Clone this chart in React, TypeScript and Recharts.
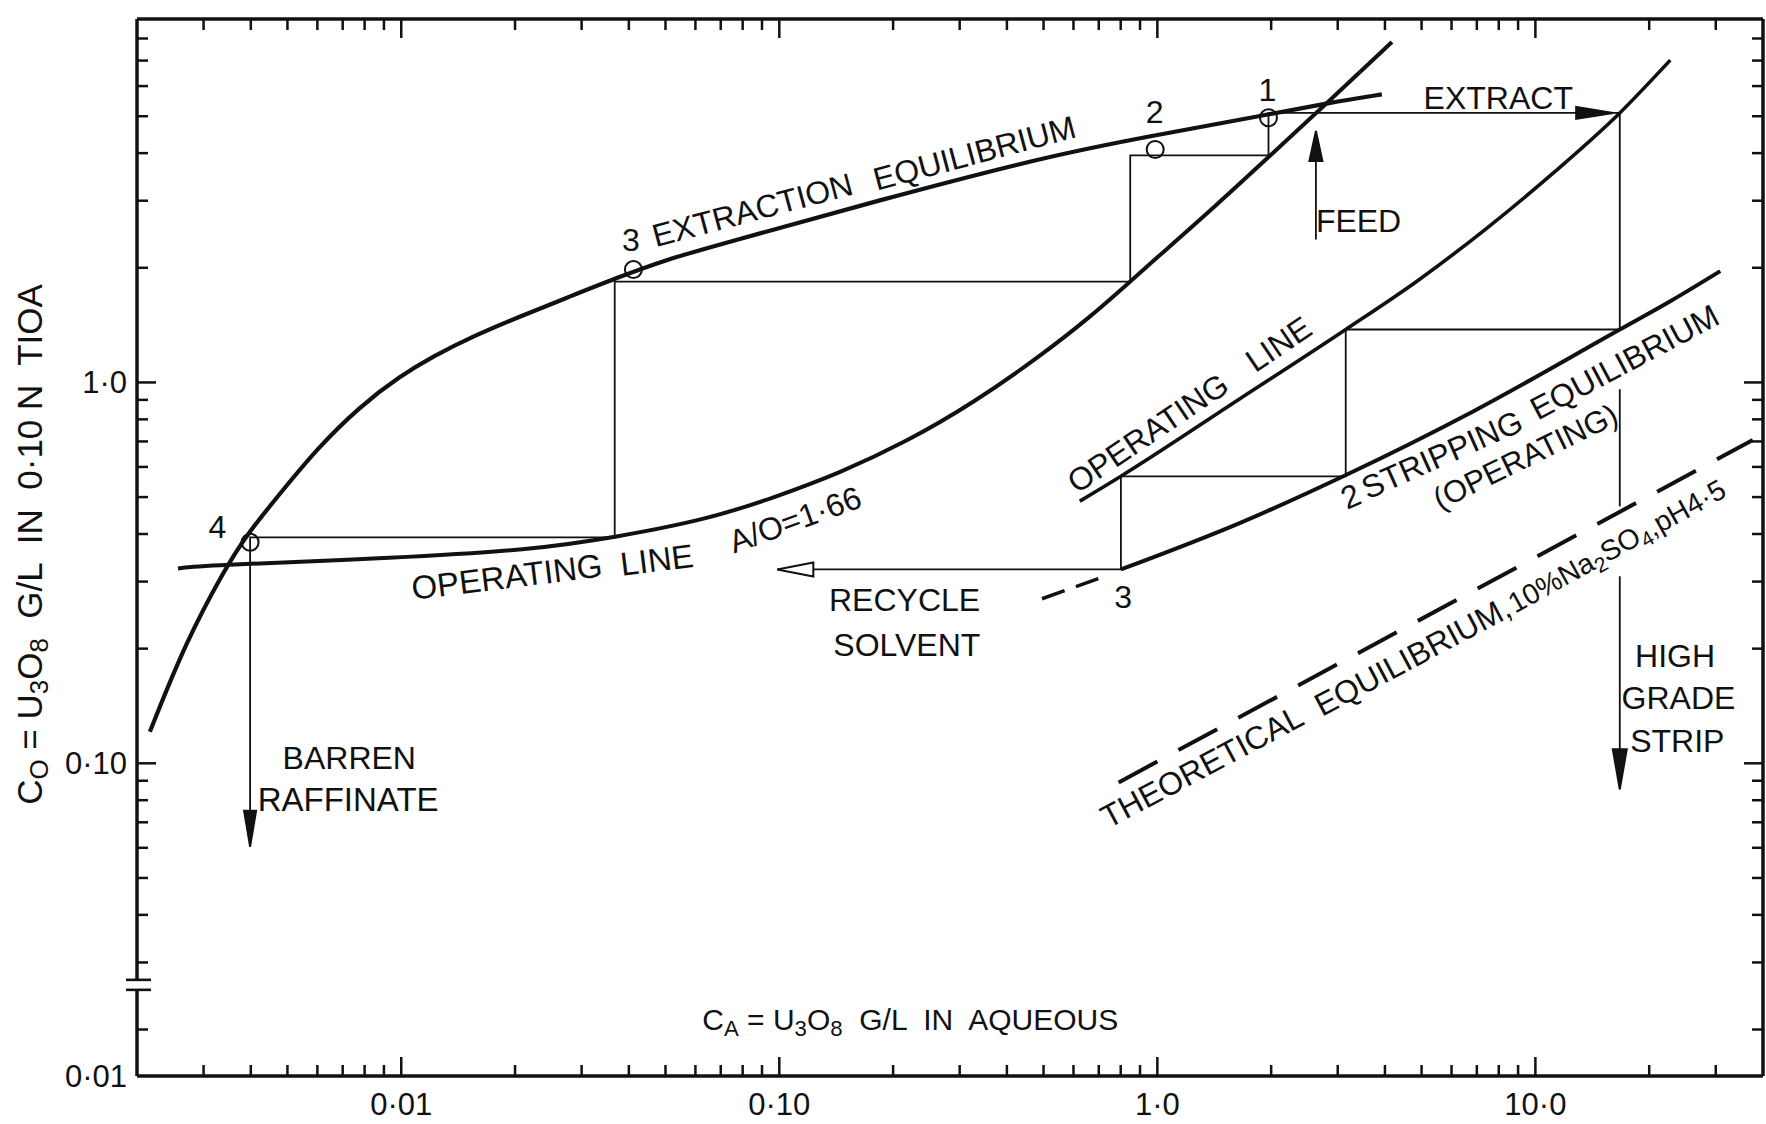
import React from 'react';
import { ComposedChart, Line, Scatter, XAxis, YAxis } from 'recharts';

const FONT = '"Liberation Sans", Arial, Helvetica, sans-serif';
const INK = '#111';

// ---------- axes ----------
const X_DOMAIN: [number, number] = [0.002, 40];
const Y_DOMAIN: [number, number] = [0.0151, 9];

const xMajorTicks = [0.01, 0.1, 1, 10];
const xMajorLabels = ['0·01', '0·10', '1·0', '10·0'];
const xMinorTicks = [
  0.003, 0.004, 0.005, 0.006, 0.007, 0.008, 0.009,
  0.02, 0.03, 0.04, 0.05, 0.06, 0.07, 0.08, 0.09,
  0.2, 0.3, 0.4, 0.5, 0.6, 0.7, 0.8, 0.9,
  2, 3, 4, 5, 6, 7, 8, 9, 20, 30,
];
const yMajorTicks = [0.1, 1];
const yMajorLabels = ['0·10', '1·0'];
const yMinorTicks = [
  0.02, 0.03, 0.04, 0.05, 0.06, 0.07, 0.08, 0.09,
  0.2, 0.3, 0.4, 0.5, 0.6, 0.7, 0.8, 0.9,
  2, 3, 4, 5, 6, 7, 8,
];
const yBottomLabel = '0·01';
const yBreakValue = 0.0262;

const X_TITLE = 'C_A = U_3O_8  G/L  IN  AQUEOUS';
const Y_TITLE = 'C_O = U_3O_8  G/L  IN  0·10 N  TIOA';

// ---------- series (C_A aqueous g/L  vs  C_O organic g/L) ----------
const extractionEqX = [0.002163, 0.002694, 0.003424, 0.003902, 0.004877, 0.005978, 0.00778, 0.009926, 0.01216, 0.01551, 0.02021, 0.02741, 0.03716, 0.0504, 0.068, 0.1867, 0.5126, 0.9572, 1.91, 2.8654, 3.9255];
const extractionEqY = [0.121, 0.2087, 0.3249, 0.3987, 0.5236, 0.6689, 0.866, 1.0389, 1.172, 1.323, 1.478, 1.668, 1.883, 2.104, 2.288, 3.024, 3.929, 4.434, 5.025, 5.428, 5.706];

const operatingLowX = [0.002567, 0.002937, 0.009926, 0.02237, 0.0367, 0.06428, 0.0965, 0.14488, 0.21751, 0.32648, 0.4899, 0.66437, 0.8478, 0.9572, 1.4366, 1.9888, 2.7522, 4.1734];
const operatingLowY = [0.3249, 0.3306, 0.3462, 0.364, 0.392, 0.4365, 0.4978, 0.5787, 0.6994, 0.8839, 1.172, 1.4848, 1.84, 2.0511, 2.9242, 3.9466, 5.307, 7.831];

const operatingUpX = [0.6237, 0.80096, 1.6455, 3.15, 4.933, 7.446, 11.236, 16.72, 22.74];
const operatingUpY = [0.4877, 0.567, 0.9029, 1.377, 1.864, 2.543, 3.57, 5.1, 7.018];

const strippingEqX = [0.80096, 1.657, 3.174, 6.862, 16.72, 22.74, 30.83];
const strippingEqY = [0.3228, 0.4279, 0.5732, 0.8406, 1.377, 1.634, 1.96];

const strippingExtX = [0.4954, 0.698];
const strippingExtY = [0.2704, 0.3056];

const theoreticalX = [0.79, 37.59];
const theoreticalY = [0.0891, 0.706];

const stepsX = [0.003983, 0.003983, 0.0367, 0.0367, 0.8478, 0.8478, 1.968, 1.968, 16.72, 16.72, 3.15, 3.15, 0.80096, 0.80096, 0.0988];
const stepsY = [0.0604, 0.392, 0.392, 1.84, 1.84, 3.947, 3.947, 5.1, 5.1, 1.377, 1.377, 0.567, 0.567, 0.3228, 0.3228];

const feedX = [2.6268, 2.6268];
const feedY = [2.374, 4.571];

const stripUpperX = [16.72, 16.72];
const stripUpperY = [0.96, 0.4726];
const stripLowerX = [16.72, 16.72];
const stripLowerY = [0.3098, 0.0855];

const stagePointsX = [1.968, 0.987, 0.04113, 0.003983];
const stagePointsY = [4.955, 4.091, 1.98, 0.3805];

const arrowHeads = [
  { id: 'barren', x: 0.003983, y: 0.0604 },
  { id: 'feed', x: 2.6268, y: 4.571 },
  { id: 'extract', x: 16.06, y: 5.1 },
  { id: 'recycle', x: 0.0988, y: 0.3228 },
  { id: 'strip', x: 16.72, y: 0.0855 },
];

const annotations = [
  { id: 'n4', x: 0.003265, y: 0.418, text: '4' },
  { id: 'n3e', x: 0.04049, y: 2.36, text: '3' },
  { id: 'extraction', x: 0.0849, y: 2.836, text: 'EXTRACTION' },
  { id: 'equilE', x: 0.3282, y: 4.0, text: 'EQUILIBRIUM' },
  { id: 'n2e', x: 0.9838, y: 5.13, text: '2' },
  { id: 'n1', x: 1.954, y: 5.85, text: '1' },
  { id: 'extract', x: 7.976, y: 5.567, text: 'EXTRACT' },
  { id: 'feed', x: 3.406, y: 2.649, text: 'FEED' },
  { id: 'opLow1', x: 0.01903, y: 0.3098, text: 'OPERATING' },
  { id: 'opLow2', x: 0.04742, y: 0.3432, text: 'LINE' },
  { id: 'ratio', x: 0.1101, y: 0.4364, text: 'A/O=1·66' },
  { id: 'opUp1', x: 0.944, y: 0.736, text: 'OPERATING' },
  { id: 'opUp2', x: 2.093, y: 1.26, text: 'LINE' },
  { id: 'n2s', x: 3.246, y: 0.5026, text: '2' },
  { id: 'stripping', x: 5.66, y: 0.6465, text: 'STRIPPING' },
  { id: 'equilS', x: 17.2, y: 1.1304, text: 'EQUILIBRIUM' },
  { id: 'operating', x: 9.4, y: 0.64, text: '(OPERATING)' },
  { id: 'theo1', x: 1.3126, y: 0.098, text: 'THEORETICAL' },
  { id: 'theo2', x: 4.734, y: 0.191, text: 'EQUILIBRIUM,' },
  { id: 'theo3', x: 16.4, y: 0.372, text: '10%Na_2SO_4,pH4·5' },
  { id: 'n3s', x: 0.812, y: 0.274, text: '3' },
  { id: 'recycle', x: 0.2145, y: 0.2685, text: 'RECYCLE' },
  { id: 'solvent', x: 0.2175, y: 0.2045, text: 'SOLVENT' },
  { id: 'barren', x: 0.007286, y: 0.1035, text: 'BARREN' },
  { id: 'raffinate', x: 0.007236, y: 0.0804, text: 'RAFFINATE' },
  { id: 'high', x: 23.42, y: 0.191, text: 'HIGH' },
  { id: 'grade', x: 23.91, y: 0.1484, text: 'GRADE' },
  { id: 'strip', x: 23.74, y: 0.1146, text: 'STRIP' },
  { id: 'xTitle', x: 0.222, y: 0.02129, text: X_TITLE },
];

// ---------- styles (kept apart from data) ----------
const annotationAngle: Record<string, number> = {
  extraction: -15, equilE: -15, opLow1: -7, opLow2: -7, ratio: -20,
  opUp1: -34, opUp2: -34, n2s: -24, stripping: -24, equilS: -28, operating: -26,
  theo1: -28, theo2: -28, theo3: -29,
};
const annotationSize: Record<string, number> = { xTitle: 30, raffinate: 33, opLow1: 33, opLow2: 33, theo3: 28.5, operating: 31 };
const DEFAULT_TEXT = 32;

const arrowGeom: Record<string, { dir: string; len: number; half: number; open?: boolean }> = {
  barren: { dir: 'down', len: 36, half: 6 },
  feed: { dir: 'up', len: 30, half: 6.5 },
  extract: { dir: 'right', len: 37, half: 6 },
  recycle: { dir: 'left', len: 36, half: 7, open: true },
  strip: { dir: 'down', len: 40, half: 7 },
};

const MAJOR_LEN = 19;
const MINOR_LEN = 11;
const TICK_W = 2.5;

const zip = (xs: number[], ys: number[]) => xs.map((x, i) => ({ x, y: ys[i] }));
const near = (a: number, b: number) => Math.abs(a / b - 1) < 1e-6;

function rich(text: string, size: number) {
  const out: React.ReactNode[] = [];
  let buf = '';
  let shifted = false;
  let k = 0;
  const shift = size * 0.28;
  const flush = () => {
    if (!buf) return;
    out.push(<tspan key={k++} dy={shifted ? -shift : undefined}>{buf}</tspan>);
    shifted = false;
    buf = '';
  };
  for (let i = 0; i < text.length; i++) {
    const c = text[i];
    if (c === '_' && i + 1 < text.length) {
      flush();
      out.push(
        <tspan key={k++} fontSize={size * 0.74} dy={shifted ? 0 : shift}>{text[i + 1]}</tspan>
      );
      shifted = true;
      i++;
    } else buf += c;
  }
  flush();
  return out;
}

const AnnotationShape = (props: any) => {
  const { cx, cy, payload } = props;
  if (cx == null || cy == null || !payload) return <g />;
  const size = annotationSize[payload.id] ?? DEFAULT_TEXT;
  const angle = annotationAngle[payload.id] ?? 0;
  return (
    <text
      x={cx}
      y={cy}
      textAnchor="middle"
      dominantBaseline="central"
      fontFamily={FONT}
      fontSize={size}
      fill={INK}
      style={{ whiteSpace: 'pre' }}
      transform={angle ? `rotate(${angle} ${cx} ${cy})` : undefined}
    >
      {rich(payload.text, size)}
    </text>
  );
};

const CircleShape = (props: any) => {
  const { cx, cy } = props;
  if (cx == null || cy == null) return <g />;
  return <circle cx={cx} cy={cy} r={8.5} fill="none" stroke={INK} strokeWidth={2} />;
};

const ArrowShape = (props: any) => {
  const { cx, cy, payload } = props;
  if (cx == null || cy == null || !payload) return <g />;
  const g = arrowGeom[payload.id];
  const { len, half } = g;
  let pts: number[][];
  switch (g.dir) {
    case 'down': pts = [[cx, cy], [cx - half, cy - len], [cx + half, cy - len]]; break;
    case 'up': pts = [[cx, cy], [cx - half, cy + len], [cx + half, cy + len]]; break;
    case 'right': pts = [[cx, cy], [cx - len, cy - half], [cx - len, cy + half]]; break;
    default: pts = [[cx, cy], [cx + len, cy - half], [cx + len, cy + half]];
  }
  return (
    <polygon
      points={pts.map((p) => p.join(',')).join(' ')}
      fill={g.open ? '#fff' : INK}
      stroke={INK}
      strokeWidth={2}
      strokeLinejoin="miter"
    />
  );
};

const XBottomTick = (props: any) => {
  const { x, y, payload } = props;
  const v = payload.value;
  const idx = xMajorTicks.findIndex((m) => near(v, m));
  const len = idx >= 0 ? MAJOR_LEN : MINOR_LEN;
  return (
    <g>
      <line x1={x} y1={y} x2={x} y2={y - len} stroke={INK} strokeWidth={TICK_W} />
      {idx >= 0 && (
        <text x={x} y={y + 39} textAnchor="middle" fontFamily={FONT} fontSize={31} fill={INK}>
          {xMajorLabels[idx]}
        </text>
      )}
    </g>
  );
};

const XTopTick = (props: any) => {
  const { x, y, payload } = props;
  const v = payload.value;
  const len = xMajorTicks.some((m) => near(v, m)) ? MAJOR_LEN : MINOR_LEN;
  return <line x1={x} y1={y} x2={x} y2={y + len} stroke={INK} strokeWidth={TICK_W} />;
};

const YLeftTick = (props: any) => {
  const { x, y, payload } = props;
  const v = payload.value;
  if (near(v, yBreakValue)) {
    return (
      <g>
        <rect x={x - 4} y={y - 5} width={8} height={10} fill="#fff" />
        <line x1={x - 11} y1={y - 5} x2={x + 14} y2={y - 5} stroke={INK} strokeWidth={2.6} />
        <line x1={x - 11} y1={y + 5} x2={x + 14} y2={y + 5} stroke={INK} strokeWidth={2.6} />
      </g>
    );
  }
  if (near(v, Y_DOMAIN[0])) {
    return (
      <text x={x - 10} y={y} textAnchor="end" dominantBaseline="central" fontFamily={FONT} fontSize={31} fill={INK}>
        {yBottomLabel}
      </text>
    );
  }
  const idx = yMajorTicks.findIndex((m) => near(v, m));
  const len = idx >= 0 ? MAJOR_LEN : MINOR_LEN;
  return (
    <g>
      <line x1={x} y1={y} x2={x + len} y2={y} stroke={INK} strokeWidth={TICK_W} />
      {idx >= 0 && (
        <text x={x - 10} y={y} textAnchor="end" dominantBaseline="central" fontFamily={FONT} fontSize={31} fill={INK}>
          {yMajorLabels[idx]}
        </text>
      )}
    </g>
  );
};

const YRightTick = (props: any) => {
  const { x, y, payload } = props;
  const v = payload.value;
  const len = yMajorTicks.some((m) => near(v, m)) ? MAJOR_LEN : MINOR_LEN;
  return <line x1={x} y1={y} x2={x - len} y2={y} stroke={INK} strokeWidth={TICK_W} />;
};

const renderYTitle = (props: any) => {
  const vb = props.viewBox || {};
  const cx = (vb.x ?? 0) + 29;
  const cy = (vb.y ?? 0) + (vb.height ?? 0) / 2 - 3;
  return (
    <text
      x={cx}
      y={cy}
      textAnchor="middle"
      dominantBaseline="central"
      fontFamily={FONT}
      fontSize={35}
      fill={INK}
      style={{ whiteSpace: 'pre' }}
      transform={`rotate(-90 ${cx} ${cy})`}
    >
      {rich(Y_TITLE, 35)}
    </text>
  );
};

const xTicks = [...xMinorTicks, ...xMajorTicks].sort((a, b) => a - b);
const yLeftTicks = [Y_DOMAIN[0], yBreakValue, ...yMinorTicks, ...yMajorTicks].sort((a, b) => a - b);
const yRightTicks = [...yMinorTicks, ...yMajorTicks].sort((a, b) => a - b);

const axisLine = { stroke: INK, strokeWidth: 3.5 };

const thin = { stroke: INK, strokeWidth: 1.8, dot: false, activeDot: false, isAnimationActive: false } as const;

export default function App() {
  return (
    <div style={{ position: 'absolute', left: 0, top: 0, width: 1766, height: 1124, background: '#fff' }}>
      <ComposedChart width={1766} height={1124} margin={{ top: 18, right: 2, bottom: 0, left: 0 }}>
        <XAxis
          xAxisId={0}
          dataKey="x"
          type="number"
          scale="log"
          domain={X_DOMAIN}
          allowDataOverflow
          ticks={xTicks}
          interval={0}
          tickSize={0}
          tickMargin={0}
          tickLine={false}
          axisLine={axisLine}
          tick={(p: any) => <XBottomTick {...p} />}
          height={48}
        />
        <XAxis
          xAxisId="top"
          orientation="top"
          dataKey="x"
          type="number"
          scale="log"
          domain={X_DOMAIN}
          allowDataOverflow
          ticks={xTicks}
          interval={0}
          tickSize={0}
          tickMargin={0}
          tickLine={false}
          axisLine={axisLine}
          tick={(p: any) => <XTopTick {...p} />}
          height={1}
        />
        <YAxis
          yAxisId={0}
          dataKey="y"
          type="number"
          scale="log"
          domain={Y_DOMAIN}
          allowDataOverflow
          ticks={yLeftTicks}
          interval={0}
          tickSize={0}
          tickMargin={0}
          tickLine={false}
          axisLine={axisLine}
          tick={(p: any) => <YLeftTick {...p} />}
          width={137}
          label={renderYTitle}
        />
        <YAxis
          yAxisId="right"
          orientation="right"
          dataKey="y"
          type="number"
          scale="log"
          domain={Y_DOMAIN}
          allowDataOverflow
          ticks={yRightTicks}
          interval={0}
          tickSize={0}
          tickMargin={0}
          tickLine={false}
          axisLine={axisLine}
          tick={(p: any) => <YRightTick {...p} />}
          width={1}
        />

        {/* invisible series tying the mirrored frame axes to the plot */}
        <Line xAxisId="top" yAxisId="right" data={zip(X_DOMAIN, Y_DOMAIN)} dataKey="y" stroke="none" dot={false} activeDot={false} isAnimationActive={false} />

        <Line data={zip(theoreticalX, theoreticalY)} dataKey="y" type="linear" stroke={INK} strokeWidth={4} strokeDasharray="44 24" dot={false} activeDot={false} isAnimationActive={false} />
        <Line data={zip(strippingExtX, strippingExtY)} dataKey="y" type="linear" stroke={INK} strokeWidth={3.5} strokeDasharray="24 12" dot={false} activeDot={false} isAnimationActive={false} />
        <Line data={zip(stepsX, stepsY)} dataKey="y" type="linear" {...thin} />
        <Line data={zip(feedX, feedY)} dataKey="y" type="linear" {...thin} />
        <Line data={zip(stripUpperX, stripUpperY)} dataKey="y" type="linear" {...thin} />
        <Line data={zip(stripLowerX, stripLowerY)} dataKey="y" type="linear" {...thin} />
        <Line data={zip(extractionEqX, extractionEqY)} dataKey="y" type="basis" stroke={INK} strokeWidth={4.2} dot={false} activeDot={false} isAnimationActive={false} />
        <Line data={zip(operatingLowX, operatingLowY)} dataKey="y" type="basis" stroke={INK} strokeWidth={4} dot={false} activeDot={false} isAnimationActive={false} />
        <Line data={zip(operatingUpX, operatingUpY)} dataKey="y" type="monotone" stroke={INK} strokeWidth={3.6} dot={false} activeDot={false} isAnimationActive={false} />
        <Line data={zip(strippingEqX, strippingEqY)} dataKey="y" type="monotone" stroke={INK} strokeWidth={4} dot={false} activeDot={false} isAnimationActive={false} />

        <Scatter data={zip(stagePointsX, stagePointsY)} dataKey="y" shape={CircleShape} isAnimationActive={false} />
        <Scatter data={arrowHeads} dataKey="y" shape={ArrowShape} isAnimationActive={false} />
        <Scatter data={annotations} dataKey="y" shape={AnnotationShape} isAnimationActive={false} />
      </ComposedChart>
    </div>
  );
}
